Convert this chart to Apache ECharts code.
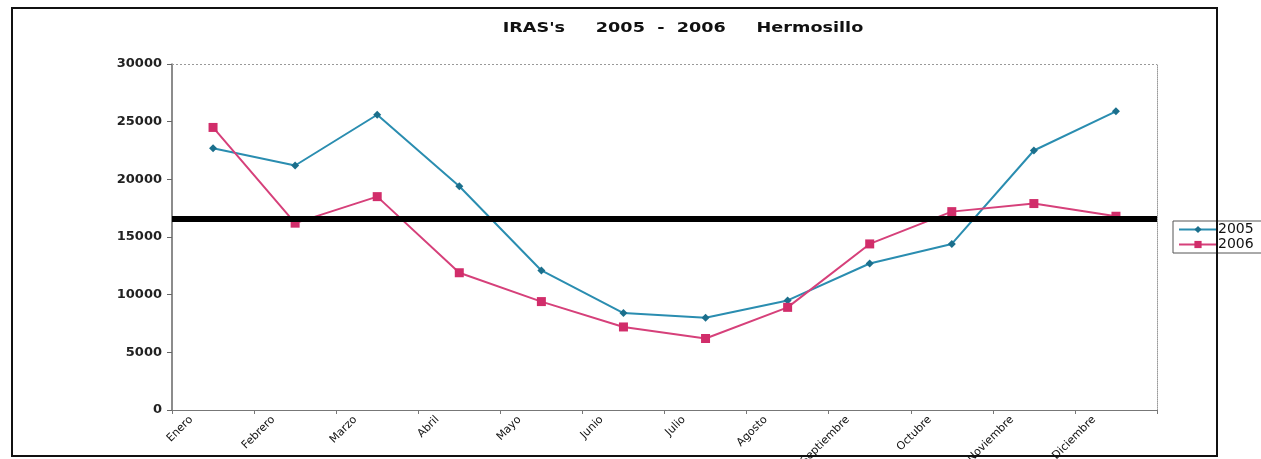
<!DOCTYPE html>
<html>
<head>
<meta charset="utf-8">
<title>IRAS's 2005 - 2006 Hermosillo</title>
<script src="https://cdn.jsdelivr.net/npm/echarts@6/dist/echarts.min.js"></script>
<style>
  html, body { margin: 0; padding: 0; background: #ffffff; }
  #chart { width: 1261px; height: 459px; }
</style>
</head>
<body>
<div id="chart"></div>
<script>
// Monthly IRAS cases, Hermosillo
const months = ['Enero', 'Febrero', 'Marzo', 'Abril', 'Mayo', 'Junio', 'Julio', 'Agosto', 'Septiembre', 'Octubre', 'Noviembre', 'Diciembre'];
const iras2005 = [22700, 21200, 25600, 19400, 12100, 8400, 8000, 9500, 12700, 14400, 22500, 25900];
const iras2006 = [24500, 16200, 18500, 11900, 9400, 7200, 6200, 8900, 14400, 17200, 17900, 16800];
const referenceLevel = [16550];
const yRange = [0, 30000, 5000]; // min, max, step

const chart = echarts.init(document.getElementById('chart'), null, { renderer: 'canvas' });

const font = 'DejaVu Sans';
const teal = '#2a8db0';
const tealMarker = '#1b6f8c';
const magenta = '#d6407a';
const magentaMarker = '#d12d6a';

chart.setOption({
  animation: false,
  backgroundColor: '#ffffff',
  grid: { left: 172, right: 104, top: 64, bottom: 49, containLabel: false, outerBoundsMode: 'none' },
  legend: {
    data: ['2005', '2006'],
    orient: 'vertical',
    left: 1173,
    top: 221,
    padding: [1, 12, 1, 5],
    itemGap: 0,
    itemWidth: 38,
    itemHeight: 9,
    borderColor: '#555',
    borderWidth: 1,
    textStyle: { fontFamily: font, fontSize: 14, lineHeight: 15, color: '#111', padding: [0, 0, 0, -4] }
  },
  xAxis: [
    {
      type: 'category',
      data: months,
      boundaryGap: true,
      position: 'bottom',
      axisLine: { lineStyle: { color: '#777', width: 1.2 } },
      axisTick: { show: true, length: 4, lineStyle: { color: '#777' } },
      axisLabel: {
        interval: 0,
        rotate: 45,
        margin: -14,
        padding: [0, 31, 0, 0],
        fontFamily: font,
        fontSize: 11,
        color: '#111'
      },
      splitLine: { show: false }
    },
    {
      type: 'category',
      data: months,
      position: 'top',
      axisLine: { show: false },
      axisTick: { show: false },
      axisLabel: { show: false },
      splitLine: { show: false }
    }
  ],
  yAxis: [
    {
      type: 'value',
      min: yRange[0],
      max: yRange[1],
      interval: yRange[2],
      axisLine: { show: true, lineStyle: { color: '#666', width: 1.5 } },
      axisTick: { show: true, length: 5, lineStyle: { color: '#666' } },
      axisLabel: {
        margin: 10,
        fontFamily: font,
        fontSize: 13,
        fontWeight: 'bold',
        color: '#222',
        formatter: v => String(v)
      },
      splitLine: { show: false }
    },
    {
      type: 'value',
      min: yRange[0],
      max: yRange[1],
      interval: yRange[2],
      position: 'right',
      axisLine: { show: true, lineStyle: { color: '#999', type: 'dotted', width: 1 } },
      axisTick: { show: false },
      axisLabel: { show: false },
      splitLine: { show: false }
    }
  ],
  series: [
    {
      name: '2005',
      type: 'line',
      data: iras2005,
      symbol: 'diamond',
      symbolSize: 8,
      lineStyle: { color: teal, width: 2 },
      itemStyle: { color: tealMarker },
      z: 3
    },
    {
      name: '2006',
      type: 'line',
      data: iras2006,
      symbol: 'rect',
      symbolSize: 9,
      lineStyle: { color: magenta, width: 2 },
      itemStyle: { color: magentaMarker },
      z: 3
    },
    {
      name: 'nivel',
      type: 'line',
      data: [],
      z: 5,
      markLine: {
        silent: true,
        symbol: ['none', 'none'],
        label: { show: false },
        lineStyle: { color: '#000', width: 6, type: 'solid' },
        data: referenceLevel.map(v => ({ yAxis: v }))
      }
    }
  ],
  graphic: [
    {
      type: 'text',
      x: 683,
      y: 28,
      scaleX: 1.26,
      style: {
        text: "IRAS's     2005  -  2006     Hermosillo",
        fontFamily: font,
        fontSize: 14,
        fontWeight: 'bold',
        fill: '#111',
        textAlign: 'center',
        textVerticalAlign: 'middle'
      }
    },
    {
      type: 'line',
      z: 50,
      shape: { x1: 172, y1: 64.5, x2: 1157, y2: 64.5 },
      style: { stroke: '#999', lineWidth: 1, lineDash: [2, 2] }
    },
    {
      type: 'rect',
      z: 100,
      shape: { x: 12, y: 8, width: 1205, height: 448 },
      style: { fill: 'none', stroke: '#111', lineWidth: 2 }
    }
  ]
});
</script>
</body>
</html>
